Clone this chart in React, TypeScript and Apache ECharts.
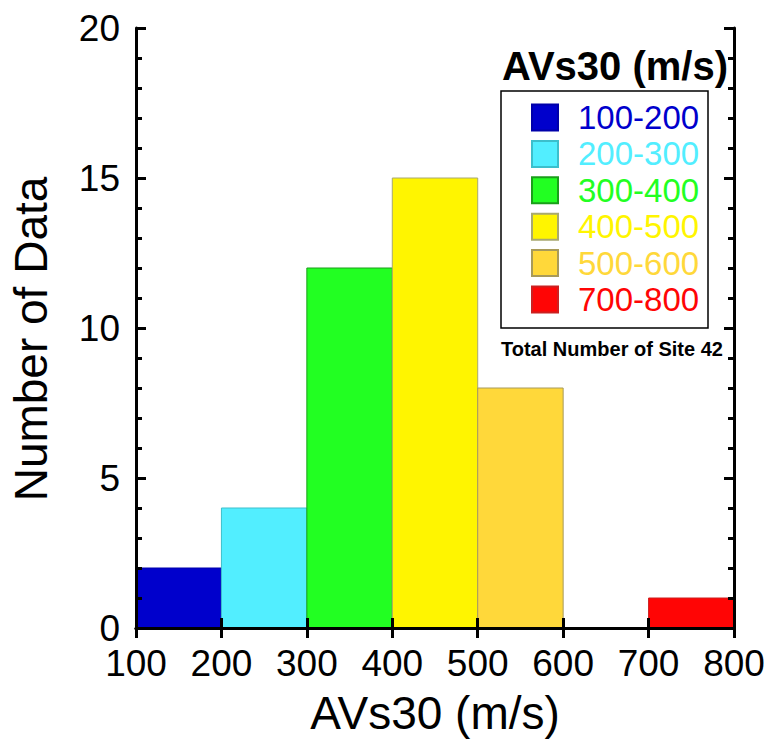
import React, { useEffect, useRef } from "react";
import * as echarts from "echarts";

const binNames = ["100-200", "200-300", "300-400", "400-500", "500-600", "700-800"];
const binLow = [100, 200, 300, 400, 500, 700];
const binHigh = [200, 300, 400, 500, 600, 800];
const counts = [2, 4, 12, 15, 8, 1];
const binColors = ["#0000CC", "#52EEFF", "#22FF22", "#FFF500", "#FFD83A", "#FF0505"];
const binBorders = ["#0000AA", "#3CBFCC", "#1A9E1A", "#A8A870", "#A89A5A", "#CC2020"];
const legendTitle = "AVs30 (m/s)";
const totalNote = "Total Number of Site 42";
const xName = "AVs30 (m/s)";
const yName = "Number of Data";

const FONT = "'Liberation Sans', Arial, sans-serif";

export default function App() {
  const ref = useRef<HTMLDivElement>(null);
  useEffect(() => {
    if (!ref.current) return;
    const chart = echarts.init(ref.current, null, { renderer: "svg" });
    const series = binNames.map((name, i) => ({
      type: "custom",
      name,
      z: 2,
      itemStyle: { color: binColors[i], borderColor: binBorders[i], borderWidth: 1 },
      encode: { x: [0, 1], y: 2 },
      data: [[binLow[i], binHigh[i], counts[i]]],
      renderItem: (params: any, api: any) => {
        const lo = api.value(0);
        const hi = api.value(1);
        const n = api.value(2);
        const p0 = api.coord([lo, n]);
        const p1 = api.coord([hi, 0]);
        return {
          type: "rect",
          shape: { x: p0[0], y: p0[1], width: p1[0] - p0[0], height: p1[1] - p0[1] },
          style: { fill: binColors[i], stroke: binBorders[i], lineWidth: 1 },
        };
      },
    }));
    const axisLine = { show: true, lineStyle: { color: "#000", width: 3 } };
    chart.setOption({
      animation: false,
      textStyle: { fontFamily: FONT },
      grid: { left: 135, right: 35, top: 28, bottom: 115, containLabel: false },
      xAxis: [
        {
          type: "value",
          position: "bottom",
          min: 100,
          max: 800,
          interval: 100,
          z: 10,
          axisLine,
          axisTick: { show: true, inside: false, length: 10, lineStyle: { color: "#000", width: 3 } },
          axisLabel: { color: "#000", fontSize: 37, margin: 17, fontFamily: FONT },
          splitLine: { show: false },
          name: xName,
          nameLocation: "middle",
          nameGap: 62,
          nameTextStyle: { color: "#000", fontSize: 46, fontFamily: FONT },
        },
        {
          type: "value",
          position: "top",
          min: 100,
          max: 800,
          interval: 100,
          z: 10,
          axisLine,
          axisTick: { show: true, inside: false, length: 10, lineStyle: { color: "#000", width: 3 } },
          axisLabel: { show: false },
          splitLine: { show: false },
        },
      ],
      yAxis: [
        {
          type: "value",
          position: "left",
          min: 0,
          max: 20,
          interval: 5,
          z: 10,
          axisLine,
          axisTick: { show: true, inside: true, length: 10, lineStyle: { color: "#000", width: 3 } },
          minorTick: { show: true, splitNumber: 5, length: 6, lineStyle: { color: "#000", width: 3 } },
          axisLabel: { color: "#000", fontSize: 37, margin: 16, fontFamily: FONT },
          splitLine: { show: false },
          minorSplitLine: { show: false },
          name: yName,
          nameLocation: "middle",
          nameGap: 82,
          nameTextStyle: { color: "#000", fontSize: 46, fontFamily: FONT, padding: [0, 22, 0, 0] },
        },
        {
          type: "value",
          position: "right",
          min: 0,
          max: 20,
          interval: 5,
          z: 10,
          axisLine,
          axisTick: { show: true, inside: true, length: 10, lineStyle: { color: "#000", width: 3 } },
          minorTick: { show: true, splitNumber: 5, length: 6, lineStyle: { color: "#000", width: 3 } },
          axisLabel: { show: false },
          splitLine: { show: false },
          minorSplitLine: { show: false },
        },
      ],
      legend: {
        orient: "vertical",
        left: 531,
        top: 101,
        padding: 0,
        icon: "rect",
        itemWidth: 26,
        itemHeight: 26,
        itemGap: 3.4,
        textStyle: { fontSize: 33, fontFamily: FONT, lineHeight: 26, padding: [0, 0, 0, 15] },
        data: binNames.map((name, i) => ({ name, textStyle: { color: binColors[i] } })),
      },
      graphic: [
        {
          type: "rect",
          shape: { x: 501, y: 91, width: 207, height: 237 },
          style: { fill: "none", stroke: "#000", lineWidth: 1.5 },
          z: 20,
        },
        {
          type: "text",
          x: 502,
          y: 66,
          style: {
            text: legendTitle,
            fontSize: 40,
            fontWeight: "bold",
            fontFamily: FONT,
            fill: "#000",
            textVerticalAlign: "middle",
            verticalAlign: "middle",
          },
          z: 20,
        },
        {
          type: "text",
          x: 501,
          y: 349,
          style: {
            text: totalNote,
            fontSize: 20,
            fontWeight: "bold",
            fontFamily: FONT,
            fill: "#000",
            textVerticalAlign: "middle",
            verticalAlign: "middle",
          },
          z: 20,
        },
      ],
      series,
    });
    return () => chart.dispose();
  }, []);
  return (
    <div
      ref={ref}
      style={{ position: "absolute", left: 0, top: 0, width: 769, height: 743, background: "#fff" }}
    />
  );
}
